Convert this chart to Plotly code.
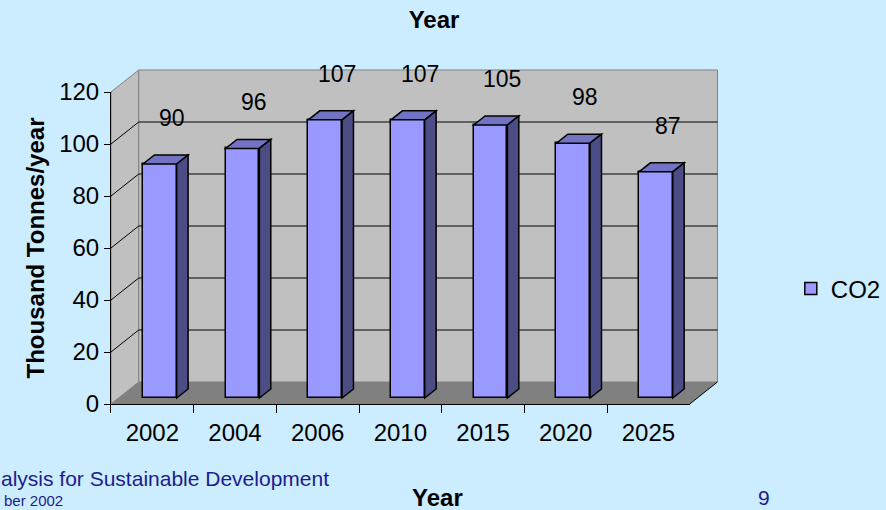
import plotly.graph_objects as go

# ---- data ----
years = ["2002", "2004", "2006", "2010", "2015", "2020", "2025"]
co2 = [90, 96, 107, 107, 105, 98, 87]
y_ticks = [0, 20, 40, 60, 80, 100, 120]

# ---- geometry of the pseudo-3D box (pixels of the 886x510 canvas) ----
W, H = 886, 510
PX_LEFT, PX_RIGHT = 112, 696      # front edge of the floor
PX_ZERO, PX_TOP = 404, 92         # front value axis: 0 .. 120
Y_MAX = 120
n = len(years)
ux = (PX_RIGHT - PX_LEFT) / n     # px per category
uy = (PX_ZERO - PX_TOP) / Y_MAX   # px per value unit

DX, DY = 28 / ux, 22 / uy         # full depth of the box
BAR_W = 34 / ux                   # bar face width
BAR_FX, BAR_FY = 7.6 / ux, 6 / uy # bar front plane offset
BAR_DX, BAR_DY = 11.5 / ux, 9 / uy  # bar depth
LABEL_SHIFT, LABEL_LIFT = 12 / ux, 46 / uy

FONT = "Liberation Sans, Arial, sans-serif"
BG = "#CCECFF"
WALL = "#C0C0C0"
FLOOR = "#808080"
EDGE = "#808080"
FRONT = "#9999FF"
TOP = "#7373C4"
SIDE = "#4D4D85"
NAVY = "#1C1C8C"

# main drawing axes span the whole canvas
x_lo = -0.5 - PX_LEFT / ux
x_hi = x_lo + W / ux
y_lo = -(H - PX_ZERO) / uy
y_hi = PX_ZERO / uy


def path(pts):
    return "M " + " L ".join(f"{x:.5f},{y:.5f}" for x, y in pts) + " Z"


shapes = []
xl, xr = -0.5, n - 0.5

# left side wall
shapes.append(dict(type="path", xref="x", yref="y", layer="below",
                   path=path([(xl, 0), (xl + DX, DY), (xl + DX, Y_MAX + DY), (xl, Y_MAX)]),
                   fillcolor=WALL, line=dict(color=EDGE, width=1)))
# back wall
shapes.append(dict(type="rect", xref="x", yref="y", layer="below",
                   x0=xl + DX, x1=xr + DX, y0=DY, y1=Y_MAX + DY,
                   fillcolor=WALL, line=dict(color=EDGE, width=1)))
# floor
shapes.append(dict(type="path", xref="x", yref="y", layer="below",
                   path=path([(xl, 0), (xr, 0), (xr + DX, DY), (xl + DX, DY)]),
                   fillcolor=FLOOR, line=dict(width=0)))
shapes.append(dict(type="line", xref="x", yref="y", layer="below",
                   x0=xr, y0=0, x1=xr + DX, y1=DY,
                   line=dict(color="black", width=1)))
# gridlines on the walls
for g in y_ticks[1:-1]:
    shapes.append(dict(type="line", xref="x", yref="y", layer="below",
                       x0=xl, y0=g, x1=xl + DX, y1=g + DY,
                       line=dict(color="black", width=1)))
    shapes.append(dict(type="line", xref="x", yref="y", layer="below",
                       x0=xl + DX, y0=g + DY, x1=xr + DX, y1=g + DY,
                       line=dict(color="black", width=1)))

# top and side faces of each bar, plus its value label
annotations = []
for i, v in enumerate(co2):
    x0 = i + BAR_FX - BAR_W / 2
    x1 = x0 + BAR_W
    y0 = BAR_FY
    y1 = v + BAR_FY
    shapes.append(dict(type="path", xref="x", yref="y", layer="above",
                       path=path([(x0, y1), (x1, y1), (x1 + BAR_DX, y1 + BAR_DY), (x0 + BAR_DX, y1 + BAR_DY)]),
                       fillcolor=TOP, line=dict(color="black", width=1.5)))
    shapes.append(dict(type="path", xref="x", yref="y", layer="above",
                       path=path([(x1, y0), (x1 + BAR_DX, y0 + BAR_DY), (x1 + BAR_DX, y1 + BAR_DY), (x1, y1)]),
                       fillcolor=SIDE, line=dict(color="black", width=1.5)))
    annotations.append(dict(xref="x", yref="y", x=i + BAR_FX + LABEL_SHIFT, y=y1 + LABEL_LIFT,
                            text=str(v), showarrow=False, xanchor="center", yanchor="middle",
                            font=dict(family=FONT, size=23, color="black")))

# slide footer
annotations += [
    dict(xref="paper", yref="paper", x=-0.001, y=1 - 478 / H, text="alysis for Sustainable Development",
         showarrow=False, xanchor="left", yanchor="middle",
         font=dict(family=FONT, size=21, color=NAVY)),
    dict(xref="paper", yref="paper", x=0.002, y=1 - 500 / H, text="ber 2002",
         showarrow=False, xanchor="left", yanchor="middle",
         font=dict(family=FONT, size=15, color=NAVY)),
    dict(xref="paper", yref="paper", x=441 / W, y=1 - 497 / H, text="Year",
         showarrow=False, xanchor="center", yanchor="middle",
         font=dict(family=FONT, size=24, color="black", weight="bold")),
    dict(xref="paper", yref="paper", x=771 / W, y=1 - 497 / H, text="9",
         showarrow=False, xanchor="center", yanchor="middle",
         font=dict(family=FONT, size=21, color=NAVY)),
]

fig = go.Figure()
fig.add_trace(go.Bar(
    x=[i + BAR_FX for i in range(n)], y=co2, base=BAR_FY, width=BAR_W,
    marker=dict(color=FRONT, line=dict(color="black", width=1.5)),
    name="CO2", xaxis="x", yaxis="y", hoverinfo="y",
))
# carrier trace for the visible category / value axes
fig.add_trace(go.Scatter(
    x=years, y=co2, xaxis="x2", yaxis="y2", mode="markers",
    marker=dict(opacity=0), showlegend=False, hoverinfo="skip",
))

fig.update_layout(
    width=W, height=H,
    margin=dict(l=0, r=0, t=0, b=0),
    paper_bgcolor=BG, plot_bgcolor="rgba(0,0,0,0)",
    font=dict(family=FONT, size=24, color="black"),
    title=dict(text="Year", x=434 / W, xref="container", xanchor="center",
               y=1 - 20 / H, yref="container", yanchor="middle",
               font=dict(family=FONT, size=24, color="black", weight="bold")),
    showlegend=True,
    legend=dict(x=798 / W, y=1 - 289 / H, xanchor="left", yanchor="middle",
                bgcolor="rgba(0,0,0,0)", font=dict(family=FONT, size=24, color="black")),
    xaxis=dict(domain=[0, 1], range=[x_lo, x_hi], type="linear", visible=False, fixedrange=True),
    yaxis=dict(domain=[0, 1], range=[y_lo, y_hi], visible=False, fixedrange=True),
    xaxis2=dict(domain=[PX_LEFT / W, PX_RIGHT / W], anchor="y2", type="category",
                categoryorder="array", categoryarray=years, range=[-0.5, n - 0.5],
                showline=True, linecolor="black", linewidth=1, showgrid=False, zeroline=False,
                ticks="outside", tickson="boundaries", ticklen=8, tickcolor="black",
                ticklabelstandoff=7,
                tickfont=dict(family=FONT, size=24, color="black"), automargin=False, fixedrange=True),
    yaxis2=dict(domain=[1 - PX_ZERO / H, 1 - PX_TOP / H], anchor="x2", range=[0, Y_MAX],
                tickvals=y_ticks, showline=True, linecolor="black", linewidth=1,
                showgrid=False, zeroline=False, ticks="outside", ticklen=6, tickcolor="black",
                tickfont=dict(family=FONT, size=24, color="black"),
                title=dict(text="Thousand Tonnes/year", standoff=7,
                           font=dict(family=FONT, size=24, color="black", weight="bold")),
                automargin=False, fixedrange=True),
    shapes=shapes,
    annotations=annotations,
    bargap=0,
)

fig.write_html("out.html")
